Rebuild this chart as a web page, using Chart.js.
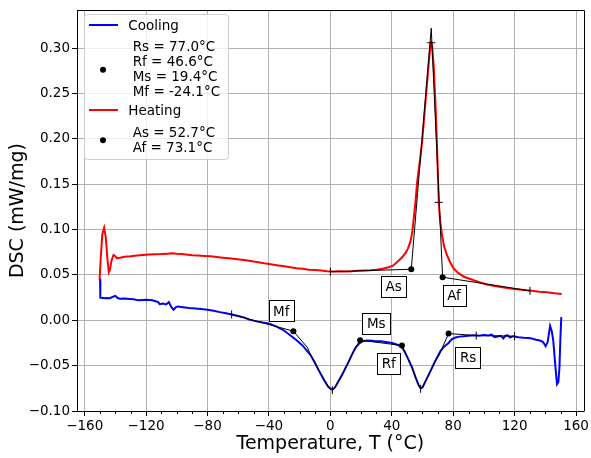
<!DOCTYPE html>
<html>
<head>
<meta charset="utf-8">
<script src="https://cdn.jsdelivr.net/npm/chart.js@4"></script>
<style>
  html, body { margin: 0; padding: 0; background: #fff; }
</style>
</head>
<body>
<canvas id="dsc" width="591" height="458"></canvas>
<script>
const FONT = '"DejaVu Sans", sans-serif';

// heating run: temperature (°C) and heat flow (mW/mg)
const heatT = [-150.3, -149.5, -148.5, -147.3, -146.3, -145.3, -144.3, -143.5, -142.5, -141.2, -140.2, -139, -137, -134, -130,
  -126, -122, -118, -114, -110, -106, -103, -100, -97, -94, -90, -86, -82, -78, -74, -70, -66, -62, -58, -54, -50, -46, -42,
  -38, -34, -30, -26, -22, -18, -14, -10, -6, -2, 2, 6, 10, 14, 18, 22, 26, 30, 34, 38, 41, 44, 46.5, 48.9, 50.5, 52.2, 53.3,
  54.3, 55.4, 56.5, 58, 59.7, 61, 62.5, 64, 65, 65.6, 66.3, 67.3, 68.4, 69.4, 70.6, 71.5, 72.7, 74, 75.9, 78, 80.3, 83.5, 87,
  92, 97, 102, 108, 114, 120, 126, 131, 136, 141, 146, 150.7];
const heatDSC = [0.045, 0.07, 0.095, 0.102, 0.092, 0.07, 0.053, 0.056, 0.066, 0.072, 0.071, 0.0685, 0.069, 0.070, 0.0705,
  0.0715, 0.072, 0.0725, 0.0728, 0.073, 0.0735, 0.0738, 0.0733, 0.073, 0.0725, 0.0718, 0.0715, 0.071, 0.0705, 0.0698, 0.069,
  0.0683, 0.0675, 0.0668, 0.066, 0.0648, 0.0638, 0.0625, 0.0615, 0.0605, 0.0595, 0.0585, 0.0575, 0.0568, 0.0558, 0.0555,
  0.0548, 0.0542, 0.0538, 0.054, 0.0538, 0.054, 0.0545, 0.0548, 0.0552, 0.0558, 0.0568, 0.0585, 0.0605, 0.065, 0.069, 0.074,
  0.079, 0.087, 0.097, 0.112, 0.13, 0.152, 0.172, 0.196, 0.222, 0.252, 0.282, 0.300, 0.306, 0.303, 0.28, 0.24, 0.196, 0.13,
  0.11, 0.094, 0.082, 0.072, 0.064, 0.057, 0.052, 0.048, 0.045, 0.042, 0.0395, 0.0375, 0.036, 0.0345, 0.0335, 0.0325, 0.0315,
  0.031, 0.0298, 0.029];

// cooling run
const coolT = [-150, -149.8, -147, -145, -143.6, -141.5, -140, -138.5, -137, -134, -131, -128, -125.3, -122, -119.8, -116,
  -113.3, -112, -111.2, -109, -107, -105.2, -103.5, -102.1, -100.5, -99.3, -96, -92, -88, -84, -80, -76, -72, -68, -64.3, -60,
  -56, -52.8, -48, -44, -39.8, -35, -30, -26.8, -22, -18, -16, -13, -10, -7.3, -4, -1.5, 0, 1.3, 3, 5, 7.8, 10, 12.1, 14.3,
  16.5, 18.5, 20.8, 24, 27, 29.5, 33, 36, 40.3, 44, 46.7, 48.5, 50.5, 53.2, 55.5, 57.5, 58.7, 60, 62, 65.2, 68, 71.7, 74, 77,
  79, 81.4, 84, 87, 90, 94.4, 97, 100, 103, 105, 107, 109.5, 111, 112.7, 114, 115.5, 117, 119.2, 122.5, 126, 129, 131.1, 134,
  136.5, 138.5, 140.2, 141.5, 143.1, 144.2, 145.2, 146.5, 147.6, 148.5, 149.2, 149.8, 150.4];
const coolDSC = [0.046, 0.025, 0.0243, 0.0245, 0.0243, 0.026, 0.027, 0.0245, 0.0238, 0.024, 0.0236, 0.0232, 0.022, 0.0225,
  0.0227, 0.022, 0.0208, 0.0198, 0.0178, 0.0185, 0.0175, 0.020, 0.0145, 0.0117, 0.0145, 0.0153, 0.0145, 0.0135, 0.013, 0.0125,
  0.0117, 0.0105, 0.009, 0.0078, 0.0065, 0.0048, 0.003, 0.0007, -0.0012, -0.0025, -0.0037, -0.007, -0.0115, -0.0157, -0.022,
  -0.028, -0.032, -0.038, -0.047, -0.056, -0.066, -0.073, -0.0755, -0.0765, -0.074, -0.068, -0.0596, -0.052, -0.045, -0.037,
  -0.030, -0.026, -0.023, -0.0222, -0.0225, -0.023, -0.0232, -0.0238, -0.025, -0.0272, -0.030, -0.035, -0.042, -0.052, -0.063,
  -0.0715, -0.075, -0.074, -0.067, -0.056, -0.046, -0.034, -0.029, -0.025, -0.021, -0.019, -0.018, -0.0175, -0.017, -0.0165,
  -0.017, -0.0162, -0.0168, -0.0158, -0.0185, -0.0175, -0.017, -0.020, -0.017, -0.0165, -0.019, -0.0175, -0.0186, -0.0192,
  -0.0195, -0.020, -0.0215, -0.0223, -0.024, -0.0285, -0.024, -0.0062, -0.012, -0.023, -0.05, -0.0705, -0.068, -0.052, -0.02,
  0.0035];

// transformation temperatures and the level where each one was picked
const coolNames = ['Rs', 'Rf', 'Ms', 'Mf'];
const coolTemps = [77.0, 46.6, 19.4, -24.1];
const coolLevels = [-0.0146, -0.0278, -0.0219, -0.012];
const heatNames = ['As', 'Af'];
const heatTemps = [52.7, 73.1];
const heatLevels = [0.0563, 0.0475];

// baselines and tangents used for the onset / end picks
const coolFitT = [-64.3, -24.1, -14.9, -13, -10, -7.3, -4, -1.5, 1.3, 3, 5, 7.8, 10, 12.1, 14.3, 16, 19.4, 46.6, 48.5,
  50.5, 53.2, 55.5, 57.5, 58.8, 60, 62, 65.2, 68, 70.6, 77.0, 95, 120];
const coolFitDSC = [0.0065, -0.012, -0.030, -0.038, -0.047, -0.056, -0.066, -0.073, -0.077, -0.074, -0.068, -0.06, -0.052,
  -0.045, -0.037, -0.031, -0.0219, -0.0278, -0.035, -0.042, -0.052, -0.063, -0.0715, -0.0755, -0.074, -0.067, -0.056,
  -0.046, -0.039, -0.0146, -0.0168, -0.0175];
const heatFitT = [0, 52.7, 65.7, 73.1, 130];
const heatFitDSC = [0.0535, 0.0563, 0.322, 0.0475, 0.0325];

// small markers on the construction lines
const markT = [-64.3, 1.3, 58.8, 95, 120, 0, 65.7, 70.6, 130];
const markDSC = [0.0065, -0.077, -0.0755, -0.0168, -0.0175, 0.0535, 0.306, 0.13, 0.0325];
const markRot = [90, 90, 90, 90, 90, 90, 0, 0, 90];

const xTicks = [-160, -120, -80, -40, 0, 40, 80, 120, 160];
const yTicks = [-0.10, -0.05, 0.00, 0.05, 0.10, 0.15, 0.20, 0.25, 0.30];

const pairs = (xs, ys) => xs.map((x, i) => ({ x, y: ys[i] }));

// label box centres, in data units
const labelAt = {
  Mf: [-32.0, 0.0104], Ms: [29.9, -0.0035], Rf: [38.0, -0.0474], Rs: [89.7, -0.0408],
  As: [41.2, 0.0378], Af: [80.6, 0.0276]
};

const fmtTemp = v => v.toFixed(1) + '°C';

const extras = {
  id: 'extras',
  afterDatasetsDraw(chart) {
    const { ctx, chartArea: a, scales: { x, y } } = chart;
    ctx.save();
    // name boxes next to each picked point
    ctx.font = '13.5px ' + FONT;
    ctx.textAlign = 'center';
    ctx.textBaseline = 'alphabetic';
    for (const name of [...coolNames, ...heatNames]) {
      const [tx, ty] = labelAt[name];
      const cx = x.getPixelForValue(tx), cy = y.getPixelForValue(ty);
      const w = ctx.measureText(name).width + 9, h = 21;
      ctx.fillStyle = '#fff';
      ctx.fillRect(Math.round(cx - w / 2) + 0.5, Math.round(cy - h / 2) + 0.5, Math.round(w), h);
      ctx.strokeStyle = '#000';
      ctx.lineWidth = 1;
      ctx.strokeRect(Math.round(cx - w / 2) + 0.5, Math.round(cy - h / 2) + 0.5, Math.round(w), h);
      ctx.fillStyle = '#000';
      ctx.fillText(name, cx, cy + 5);
    }
    ctx.restore();
  },
  afterDraw(chart) {
    const { ctx, chartArea: a, scales: { x } } = chart;
    ctx.save();
    // top and right spines
    ctx.strokeStyle = '#000';
    ctx.lineWidth = 1;
    ctx.beginPath();
    ctx.moveTo(Math.round(a.left) + 0.5, Math.round(a.top) + 0.5);
    ctx.lineTo(Math.round(a.right) + 0.5, Math.round(a.top) + 0.5);
    ctx.lineTo(Math.round(a.right) + 0.5, Math.round(a.bottom) + 0.5);
    ctx.stroke();
    // minor ticks on the temperature axis
    ctx.beginPath();
    for (let v = -160; v <= 160; v += 10) {
      if (v % 40 === 0) continue;
      const px = Math.round(x.getPixelForValue(v)) + 0.5;
      ctx.moveTo(px, Math.round(a.bottom));
      ctx.lineTo(px, Math.round(a.bottom) + 3);
    }
    ctx.stroke();

    // axis titles
    ctx.fillStyle = '#000';
    ctx.font = '19px ' + FONT;
    ctx.textAlign = 'center';
    ctx.textBaseline = 'alphabetic';
    ctx.fillText('Temperature, T (°C)', (a.left + a.right) / 2, 449);
    ctx.save();
    ctx.translate(23, (a.top + a.bottom) / 2);
    ctx.rotate(-Math.PI / 2);
    ctx.fillText('DSC (mW/mg)', 0, 0);
    ctx.restore();

    // legend
    const lx = 84, ly = 14, lw = 144, lh = 145;
    ctx.fillStyle = 'rgba(255,255,255,0.8)';
    ctx.strokeStyle = '#cccccc';
    ctx.beginPath();
    ctx.roundRect(lx + 0.5, ly + 0.5, lw, lh, 3);
    ctx.fill();
    ctx.stroke();

    ctx.font = '13.5px ' + FONT;
    ctx.textAlign = 'left';
    ctx.fillStyle = '#000';
    const entries = [
      { color: '#0000ff', title: 'Cooling', ty: 25, lines: coolNames.map((n, i) => n + ' = ' + fmtTemp(coolTemps[i])), top: 45.7, dot: 69.7 },
      { color: '#ff0000', title: 'Heating', ty: 110, lines: heatNames.map((n, i) => n + ' = ' + fmtTemp(heatTemps[i])), top: 132, dot: 140.3 }
    ];
    for (const e of entries) {
      ctx.strokeStyle = e.color;
      ctx.lineWidth = 2;
      ctx.beginPath();
      ctx.moveTo(89, e.ty);
      ctx.lineTo(118, e.ty);
      ctx.stroke();
      ctx.fillStyle = '#000';
      ctx.fillText(e.title, 128.3, e.ty + 5);
      e.lines.forEach((t, i) => ctx.fillText(t, 132.7, e.top + 15.2 * i + 5));
      ctx.beginPath();
      ctx.arc(103, e.dot, 3, 0, Math.PI * 2);
      ctx.fill();
    }
    ctx.restore();
  }
};

new Chart(document.getElementById('dsc'), {
  type: 'line',
  data: {
    datasets: [
      {
        label: 'Cooling', data: pairs(coolT, coolDSC), borderColor: '#0000ff', borderWidth: 2,
        pointRadius: 0, order: 4
      },
      {
        label: 'Heating', data: pairs(heatT, heatDSC), borderColor: '#ff0000', borderWidth: 2,
        pointRadius: 0, order: 3
      },
      {
        data: pairs(coolFitT, coolFitDSC), borderColor: '#000', borderWidth: 1, pointRadius: 0, order: 2
      },
      {
        data: pairs(heatFitT, heatFitDSC), borderColor: '#000', borderWidth: 1, pointRadius: 0, order: 2
      },
      {
        data: pairs(markT, markDSC), showLine: false, pointStyle: 'line', pointRadius: 4,
        pointRotation: markRot, pointBorderColor: '#000', pointBorderWidth: 1, order: 1
      },
      {
        data: pairs([...coolTemps, ...heatTemps], [...coolLevels, ...heatLevels]), showLine: false,
        pointStyle: 'circle', pointRadius: 3, pointBackgroundColor: '#000', pointBorderColor: '#000',
        pointBorderWidth: 0, order: 0
      }
    ]
  },
  options: {
    responsive: false,
    animation: false,
    devicePixelRatio: 1,
    layout: { padding: { top: 7, right: 5, left: 0, bottom: 0 } },
    plugins: { legend: { display: false }, tooltip: { enabled: false } },
    elements: { line: { tension: 0 } },
    scales: {
      x: {
        type: 'linear', min: -165, max: 165,
        afterBuildTicks: s => { s.ticks = xTicks.map(v => ({ value: v })); },
        afterFit: s => { s.height = 47; },
        ticks: {
          color: '#000', font: { family: FONT, size: 13.5 }, padding: 2, maxRotation: 0,
          callback: v => (v < 0 ? '\u2212' : '') + Math.abs(v)
        },
        grid: { color: '#b0b0b0', lineWidth: 1, tickColor: '#000', tickLength: 5 },
        border: { color: '#000', width: 1 }
      },
      y: {
        type: 'linear', min: -0.1, max: 0.342,
        afterBuildTicks: s => { s.ticks = yTicks.map(v => ({ value: v })); },
        afterFit: s => { s.width = 77; },
        ticks: {
          color: '#000', font: { family: FONT, size: 13.5 }, padding: 2,
          callback: v => (v < -1e-9 ? '\u2212' : '') + Math.abs(v).toFixed(2)
        },
        grid: { color: '#b0b0b0', lineWidth: 1, tickColor: '#000', tickLength: 5 },
        border: { color: '#000', width: 1 }
      }
    }
  },
  plugins: [extras]
});
</script>
</body>
</html>
